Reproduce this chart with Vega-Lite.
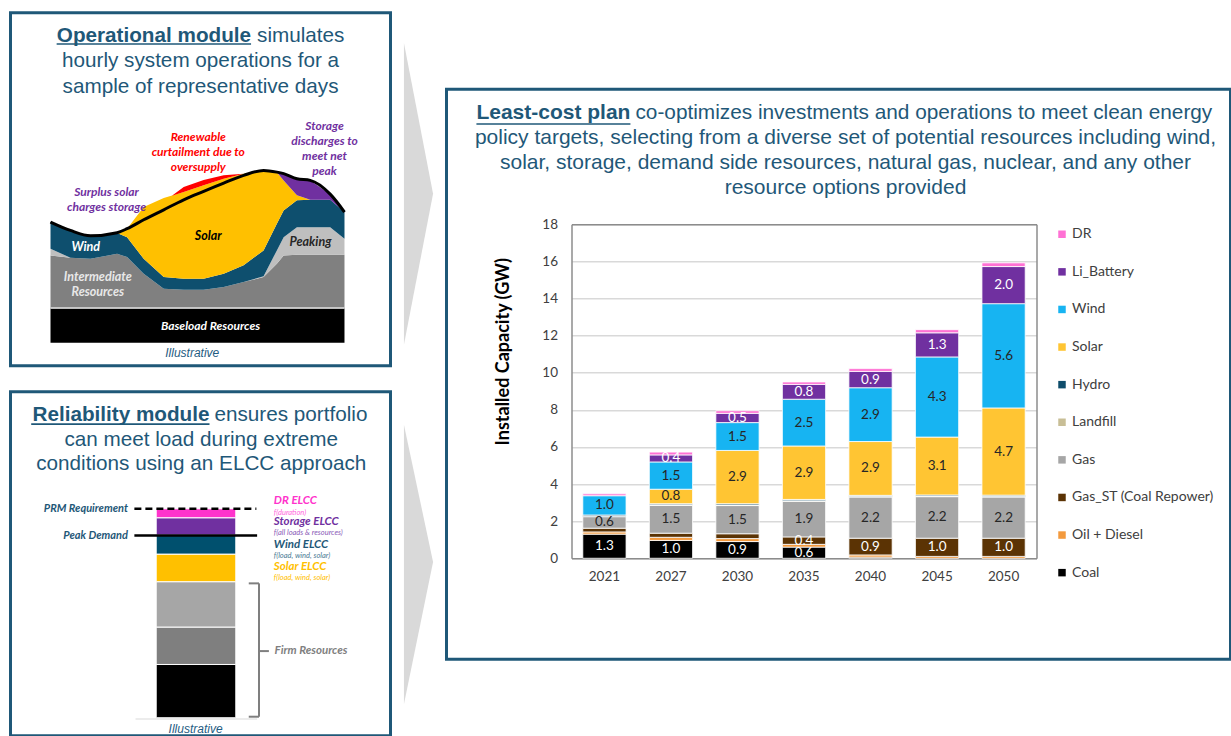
{
  "$schema": "https://vega.github.io/schema/vega-lite/v6.json",
  "background": "white",
  "padding": {"left": 8.5, "top": 10.5, "right": 0, "bottom": 0},
  "config": {"view": {"stroke": null}, "text": {"font": "Liberation Sans"}},
  "datasets": {
    "rank": [
      {"tech": "Coal", "rk": 1}, {"tech": "Oil + Diesel", "rk": 2}, {"tech": "Gas_ST (Coal Repower)", "rk": 3},
      {"tech": "Gas", "rk": 4}, {"tech": "Landfill", "rk": 5}, {"tech": "Hydro", "rk": 6}, {"tech": "Solar", "rk": 7},
      {"tech": "Wind", "rk": 8}, {"tech": "Li_Battery", "rk": 9}, {"tech": "DR", "rk": 10}
    ]
  },
  "spacing": 10.5,
  "center": true,
  "resolve": {"scale": {"color": "independent"}, "legend": {"color": "independent"}},
  "hconcat": [
    {
      "spacing": 22,
      "resolve": {"scale": {"color": "independent"}, "legend": {"color": "independent"}},
      "vconcat": [
        {
          "width": 380, "height": 353,
          "view": {"stroke": "#1F5878", "strokeWidth": 3, "fill": "white"},
          "layer": [
            {
              "data": {"values": [
                {"layer": "Baseload", "h": 1, "lo": 0, "hi": 20}, {"layer": "Baseload", "h": 24, "lo": 0, "hi": 20},
                {"layer": "Intermediate", "h": 1, "lo": 20, "hi": 50.8}, {"layer": "Intermediate", "h": 2.56, "lo": 20, "hi": 49.4},
                {"layer": "Intermediate", "h": 4.13, "lo": 20, "hi": 48.8}, {"layer": "Intermediate", "h": 6.21, "lo": 20, "hi": 51.7},
                {"layer": "Intermediate", "h": 6.99, "lo": 20, "hi": 49.8}, {"layer": "Intermediate", "h": 8.29, "lo": 20, "hi": 40.1},
                {"layer": "Intermediate", "h": 9.86, "lo": 20, "hi": 31.4}, {"layer": "Intermediate", "h": 11.42, "lo": 20, "hi": 30.8},
                {"layer": "Intermediate", "h": 12.98, "lo": 20, "hi": 30.8}, {"layer": "Intermediate", "h": 14.55, "lo": 20, "hi": 32.4},
                {"layer": "Intermediate", "h": 16.11, "lo": 20, "hi": 35.3}, {"layer": "Intermediate", "h": 17.67, "lo": 20, "hi": 38.2},
                {"layer": "Intermediate", "h": 18.71, "lo": 20, "hi": 45.9}, {"layer": "Intermediate", "h": 19.24, "lo": 20, "hi": 50.8},
                {"layer": "Intermediate", "h": 20.28, "lo": 20, "hi": 51.2}, {"layer": "Intermediate", "h": 21.32, "lo": 20, "hi": 51.2},
                {"layer": "Intermediate", "h": 22.88, "lo": 20, "hi": 51.2}, {"layer": "Intermediate", "h": 24, "lo": 20, "hi": 51.2},
                {"layer": "PeakL", "h": 1, "lo": 50.8, "hi": 54.7}, {"layer": "PeakL", "h": 2.56, "lo": 49.4, "hi": 49.4},
                {"layer": "PeakR", "h": 16.11, "lo": 35.3, "hi": 35.3}, {"layer": "PeakR", "h": 17.67, "lo": 38.2, "hi": 38.6},
                {"layer": "PeakR", "h": 18.71, "lo": 45.9, "hi": 53.7}, {"layer": "PeakR", "h": 19.24, "lo": 50.8, "hi": 61.4},
                {"layer": "PeakR", "h": 20.28, "lo": 51.2, "hi": 67.2}, {"layer": "PeakR", "h": 21.32, "lo": 51.2, "hi": 67.2},
                {"layer": "PeakR", "h": 22.88, "lo": 51.2, "hi": 67.2}, {"layer": "PeakR", "h": 24, "lo": 51.2, "hi": 60.5},
                {"layer": "Wind", "h": 1, "lo": 54.7, "hi": 70.2}, {"layer": "Wind", "h": 2.56, "lo": 49.4, "hi": 65.3},
                {"layer": "Wind", "h": 4.13, "lo": 48.8, "hi": 62.2}, {"layer": "Wind", "h": 6.21, "lo": 51.7, "hi": 63.8},
                {"layer": "Wind", "h": 6.99, "lo": 49.8, "hi": 61.4}, {"layer": "Wind", "h": 8.29, "lo": 40.1, "hi": 48.8},
                {"layer": "Wind", "h": 9.86, "lo": 31.4, "hi": 38.2}, {"layer": "Wind", "h": 11.42, "lo": 30.8, "hi": 37.2},
                {"layer": "Wind", "h": 12.98, "lo": 30.8, "hi": 37.2}, {"layer": "Wind", "h": 14.55, "lo": 32.4, "hi": 40.1},
                {"layer": "Wind", "h": 16.11, "lo": 35.3, "hi": 45.0}, {"layer": "Wind", "h": 17.67, "lo": 38.6, "hi": 53.7},
                {"layer": "Wind", "h": 18.71, "lo": 53.7, "hi": 69.2}, {"layer": "Wind", "h": 19.24, "lo": 61.4, "hi": 76.9},
                {"layer": "Wind", "h": 20.28, "lo": 67.2, "hi": 82.8}, {"layer": "Wind", "h": 21.32, "lo": 67.2, "hi": 83.1},
                {"layer": "Wind", "h": 22.88, "lo": 67.2, "hi": 83.1}, {"layer": "Wind", "h": 24, "lo": 60.5, "hi": 76.0},
                {"layer": "Solar", "h": 6.21, "lo": 63.8, "hi": 63.8}, {"layer": "Solar", "h": 6.99, "lo": 61.4, "hi": 66.3},
                {"layer": "Solar", "h": 8.29, "lo": 48.8, "hi": 78.9}, {"layer": "Solar", "h": 9.86, "lo": 38.2, "hi": 84.1},
                {"layer": "Solar", "h": 11.42, "lo": 37.2, "hi": 87.6}, {"layer": "Solar", "h": 12.98, "lo": 37.2, "hi": 91.5},
                {"layer": "Solar", "h": 14.55, "lo": 40.1, "hi": 95.3}, {"layer": "Solar", "h": 16.11, "lo": 45.0, "hi": 98.3},
                {"layer": "Solar", "h": 17.67, "lo": 53.7, "hi": 100.2}, {"layer": "Solar", "h": 18.71, "lo": 69.2, "hi": 99.2},
                {"layer": "Solar", "h": 19.24, "lo": 76.9, "hi": 94.4}, {"layer": "Solar", "h": 20.28, "lo": 82.8, "hi": 85.7},
                {"layer": "Solar", "h": 21.32, "lo": 83.1, "hi": 83.1},
                {"layer": "Curtail", "h": 10.5, "lo": 85.5, "hi": 85.5}, {"layer": "Curtail", "h": 11.42, "lo": 87.6, "hi": 90.6},
                {"layer": "Curtail", "h": 12.98, "lo": 91.5, "hi": 94.6}, {"layer": "Curtail", "h": 14.55, "lo": 95.3, "hi": 97.4},
                {"layer": "Curtail", "h": 16.11, "lo": 98.3, "hi": 98.3},
                {"layer": "Storage", "h": 18.71, "lo": 99.2, "hi": 99.2}, {"layer": "Storage", "h": 19.24, "lo": 94.4, "hi": 98.3},
                {"layer": "Storage", "h": 20.28, "lo": 85.7, "hi": 95.3}, {"layer": "Storage", "h": 21.32, "lo": 83.1, "hi": 94.4},
                {"layer": "Storage", "h": 22.88, "lo": 83.1, "hi": 86.4}, {"layer": "Storage", "h": 24, "lo": 76.0, "hi": 76.0}
              ]},
              "mark": {"type": "area", "interpolate": "linear"},
              "encoding": {
                "x": {"field": "h", "type": "quantitative", "scale": {"domain": [-2.13, 27.6], "nice": false, "zero": false}, "axis": null},
                "y": {"field": "lo", "type": "quantitative", "stack": null, "scale": {"domain": [-13.37, 191.86], "nice": false, "zero": false}, "axis": null},
                "y2": {"field": "hi"},
                "color": {"field": "layer", "type": "nominal", "legend": null,
                  "scale": {"domain": ["Baseload", "Intermediate", "PeakL", "PeakR", "Wind", "Solar", "Curtail", "Storage"],
                            "range": ["#000000", "#808080", "#BFBFBF", "#BFBFBF", "#0E4F6E", "#FFC000", "#FF0000", "#7030A0"]}}
              }
            },
            {
              "data": {"values": [
                {"h": 1, "load": 70.2}, {"h": 2.56, "load": 65.3}, {"h": 4.13, "load": 62.2}, {"h": 6.21, "load": 64.0},
                {"h": 6.99, "load": 66.3}, {"h": 8.29, "load": 71.5}, {"h": 9.86, "load": 77.3}, {"h": 11.42, "load": 83.1},
                {"h": 12.98, "load": 88.0}, {"h": 14.55, "load": 92.8}, {"h": 16.11, "load": 97.3}, {"h": 17.67, "load": 100.2},
                {"h": 18.71, "load": 99.2}, {"h": 19.24, "load": 98.3}, {"h": 20.28, "load": 95.3}, {"h": 21.32, "load": 94.4},
                {"h": 22.88, "load": 86.4}, {"h": 24, "load": 76.0}
              ]},
              "mark": {"type": "line", "color": "#000000", "strokeWidth": 3, "interpolate": "monotone"},
              "encoding": {
                "x": {"field": "h", "type": "quantitative", "scale": {"domain": [-2.13, 27.6], "nice": false, "zero": false}, "axis": null},
                "y": {"field": "load", "type": "quantitative", "scale": {"domain": [-13.37, 191.86], "nice": false, "zero": false}, "axis": null}
              }
            },
            {
              "data": {"values": [{}]},
              "layer": [
                {"mark": {"type": "rule", "color": "#E0E0E0", "strokeWidth": 1.5},
                 "encoding": {"x": {"datum": 1}, "x2": {"datum": 24}, "y": {"datum": 20.2}}},
                {"mark": {"type": "rule", "color": "#1F5878", "strokeWidth": 1.6},
                 "encoding": {"x": {"datum": 1.48}, "x2": {"datum": 16.69}, "y": {"datum": 173.7}}},
                {"mark": {"type": "text", "text": "Operational module", "align": "right", "baseline": "middle", "font": "Liberation Sans", "fontSize": 20.7, "fontWeight": "bold", "color": "#1F5878"},
                 "encoding": {"x": {"datum": 16.69}, "y": {"datum": 178.5}}},
                {"mark": {"type": "text", "text": "simulates", "align": "left", "baseline": "middle", "font": "Liberation Sans", "fontSize": 20.7, "color": "#1F5878"},
                 "encoding": {"x": {"datum": 17.16}, "y": {"datum": 178.5}}},
                {"mark": {"type": "text", "text": ["hourly system operations for a", "sample of representative days"], "lineHeight": 26, "align": "center", "baseline": "middle", "font": "Liberation Sans", "fontSize": 20.7, "color": "#1F5878"},
                 "encoding": {"x": {"datum": 12.74}, "y": {"datum": 164.0}}},
                {"mark": {"type": "text", "text": ["Surplus solar", "charges storage"], "lineHeight": 15, "align": "center", "baseline": "middle", "font": "Lato", "fontSize": 12, "fontWeight": "bold", "fontStyle": "italic", "color": "#7030A0"},
                 "encoding": {"x": {"datum": 5.38}, "y": {"datum": 87.4}}},
                {"mark": {"type": "text", "text": ["Renewable", "curtailment due to", "oversupply"], "lineHeight": 15, "align": "center", "baseline": "middle", "font": "Lato", "fontSize": 12, "fontWeight": "bold", "fontStyle": "italic", "color": "#FF0000"},
                 "encoding": {"x": {"datum": 12.56}, "y": {"datum": 119.4}}},
                {"mark": {"type": "text", "text": ["Storage", "discharges to", "meet net", "peak"], "lineHeight": 15, "align": "center", "baseline": "middle", "font": "Lato", "fontSize": 12, "fontWeight": "bold", "fontStyle": "italic", "color": "#7030A0"},
                 "encoding": {"x": {"datum": 22.44}, "y": {"datum": 126.2}}},
                {"mark": {"type": "text", "text": "Wind", "align": "center", "baseline": "middle", "font": "Lato", "fontSize": 12.5, "fontWeight": "bold", "fontStyle": "italic", "color": "#FFFFFF"},
                 "encoding": {"x": {"datum": 3.76}, "y": {"datum": 55.8}}},
                {"mark": {"type": "text", "text": "Solar", "align": "center", "baseline": "middle", "font": "Lato", "fontSize": 12.5, "fontWeight": "bold", "fontStyle": "italic", "color": "#000000"},
                 "encoding": {"x": {"datum": 13.34}, "y": {"datum": 62.2}}},
                {"mark": {"type": "text", "text": ["Intermediate", "Resources"], "lineHeight": 15, "align": "center", "baseline": "middle", "font": "Lato", "fontSize": 12.5, "fontWeight": "bold", "fontStyle": "italic", "color": "#E8E8E8"},
                 "encoding": {"x": {"datum": 4.7}, "y": {"datum": 38.0}}},
                {"mark": {"type": "text", "text": "Peaking", "align": "center", "baseline": "middle", "font": "Lato", "fontSize": 12.5, "fontWeight": "bold", "fontStyle": "italic", "color": "#262626"},
                 "encoding": {"x": {"datum": 21.34}, "y": {"datum": 58.3}}},
                {"mark": {"type": "text", "text": "Baseload Resources", "align": "center", "baseline": "middle", "font": "Lato", "fontSize": 12, "fontWeight": "bold", "fontStyle": "italic", "color": "#FFFFFF"},
                 "encoding": {"x": {"datum": 13.52}, "y": {"datum": 9.9}}},
                {"mark": {"type": "text", "text": "Illustrative", "align": "center", "baseline": "middle", "font": "Liberation Sans", "fontSize": 12, "fontStyle": "italic", "color": "#1F5C82"},
                 "encoding": {"x": {"datum": 12.09}, "y": {"datum": -6.2}}}
              ],
              "encoding": {
                "x": {"scale": {"domain": [-2.13, 27.6], "nice": false, "zero": false}, "axis": null},
                "y": {"scale": {"domain": [-13.37, 191.86], "nice": false, "zero": false}, "axis": null}
              }
            }
          ]
        },
        {
          "width": 380, "height": 344,
          "view": {"stroke": "#1F5878", "strokeWidth": 3, "fill": "white"},
          "layer": [
            {
              "data": {"values": [
                {"seg": "Firm base", "lo": 0, "hi": 25.5}, {"seg": "Firm mid", "lo": 25.5, "hi": 43.4},
                {"seg": "Firm top", "lo": 43.4, "hi": 65.1}, {"seg": "Solar ELCC", "lo": 65.1, "hi": 78.3},
                {"seg": "Wind ELCC", "lo": 78.3, "hi": 87.4}, {"seg": "Storage ELCC", "lo": 87.4, "hi": 95.7},
                {"seg": "DR ELCC", "lo": 95.7, "hi": 100}
              ]},
              "mark": {"type": "rect", "stroke": "#FFFFFF", "strokeWidth": 1},
              "encoding": {
                "x": {"datum": 38.34, "scale": {"domain": [0, 100], "nice": false, "zero": false}, "axis": null},
                "x2": {"datum": 59.29},
                "y": {"field": "lo", "type": "quantitative", "scale": {"domain": [-8.61, 155.98], "nice": false, "zero": false}, "axis": null},
                "y2": {"field": "hi"},
                "color": {"field": "seg", "type": "nominal", "legend": null,
                  "scale": {"domain": ["Firm base", "Firm mid", "Firm top", "Solar ELCC", "Wind ELCC", "Storage ELCC", "DR ELCC"],
                            "range": ["#000000", "#7F7F7F", "#A6A6A6", "#FFC000", "#00506E", "#7030A0", "#FF33CC"]}}
              }
            },
            {
              "data": {"values": [{}]},
              "layer": [
                {"mark": {"type": "rule", "color": "#D9D9D9", "strokeWidth": 1},
                 "encoding": {"x": {"datum": 32.9}, "x2": {"datum": 64.9}, "y": {"datum": -0.6}}},
                {"mark": {"type": "rule", "color": "#000000", "strokeWidth": 2.5, "strokeDash": [7, 4]},
                 "encoding": {"x": {"datum": 32.6}, "x2": {"datum": 64.7}, "y": {"datum": 100}}},
                {"mark": {"type": "rule", "color": "#000000", "strokeWidth": 2.5},
                 "encoding": {"x": {"datum": 32.6}, "x2": {"datum": 64.9}, "y": {"datum": 87.2}}},
                {"mark": {"type": "rule", "color": "#7F7F7F", "strokeWidth": 2},
                 "encoding": {"x": {"datum": 62.7}, "x2": {"datum": 65.4}, "y": {"datum": 64.3}}},
                {"mark": {"type": "rule", "color": "#7F7F7F", "strokeWidth": 2},
                 "encoding": {"x": {"datum": 62.7}, "x2": {"datum": 65.4}, "y": {"datum": 0.5}}},
                {"mark": {"type": "rule", "color": "#7F7F7F", "strokeWidth": 2},
                 "encoding": {"x": {"datum": 65.4}, "y": {"datum": 0.5}, "y2": {"datum": 64.3}}},
                {"mark": {"type": "rule", "color": "#7F7F7F", "strokeWidth": 2},
                 "encoding": {"x": {"datum": 65.4}, "x2": {"datum": 68.0}, "y": {"datum": 31.9}}},
                {"mark": {"type": "rule", "color": "#1F5878", "strokeWidth": 1.6},
                 "encoding": {"x": {"datum": 5.45}, "x2": {"datum": 52.37}, "y": {"datum": 140.5}}},
                {"mark": {"type": "text", "text": "Reliability module", "align": "right", "baseline": "middle", "font": "Liberation Sans", "fontSize": 20.7, "fontWeight": "bold", "color": "#1F5878"},
                 "encoding": {"x": {"datum": 52.37}, "y": {"datum": 144.8}}},
                {"mark": {"type": "text", "text": "ensures portfolio", "align": "left", "baseline": "middle", "font": "Liberation Sans", "fontSize": 20.7, "color": "#1F5878"},
                 "encoding": {"x": {"datum": 53.68}, "y": {"datum": 144.8}}},
                {"mark": {"type": "text", "text": ["can meet load during extreme", "conditions using an ELCC approach"], "lineHeight": 24.4, "align": "center", "baseline": "middle", "font": "Liberation Sans", "fontSize": 20.7, "color": "#1F5878"},
                 "encoding": {"x": {"datum": 50.2}, "y": {"datum": 132.9}}},
                {"mark": {"type": "text", "text": "PRM Requirement", "align": "right", "baseline": "middle", "font": "Lato", "fontSize": 11, "fontWeight": "bold", "fontStyle": "italic", "color": "#1F5878"},
                 "encoding": {"x": {"datum": 30.9}, "y": {"datum": 99.9}}},
                {"mark": {"type": "text", "text": "Peak Demand", "align": "right", "baseline": "middle", "font": "Lato", "fontSize": 11, "fontWeight": "bold", "fontStyle": "italic", "color": "#1F5878"},
                 "encoding": {"x": {"datum": 30.9}, "y": {"datum": 87.1}}},
                {"mark": {"type": "text", "text": "DR ELCC", "align": "left", "baseline": "middle", "font": "Lato", "fontSize": 11.5, "fontWeight": "bold", "fontStyle": "italic", "color": "#FF33CC"},
                 "encoding": {"x": {"datum": 69.3}, "y": {"datum": 103.7}}},
                {"mark": {"type": "text", "text": "f(duration)", "align": "left", "baseline": "middle", "font": "Lato", "fontSize": 7.5, "fontStyle": "italic", "color": "#FF66DD"},
                 "encoding": {"x": {"datum": 69.3}, "y": {"datum": 98.2}}},
                {"mark": {"type": "text", "text": "Storage ELCC", "align": "left", "baseline": "middle", "font": "Lato", "fontSize": 11.5, "fontWeight": "bold", "fontStyle": "italic", "color": "#7030A0"},
                 "encoding": {"x": {"datum": 69.3}, "y": {"datum": 93.8}}},
                {"mark": {"type": "text", "text": "f(all loads & resources)", "align": "left", "baseline": "middle", "font": "Lato", "fontSize": 7.5, "fontStyle": "italic", "color": "#8B5CB8"},
                 "encoding": {"x": {"datum": 69.3}, "y": {"datum": 88.4}}},
                {"mark": {"type": "text", "text": "Wind ELCC", "align": "left", "baseline": "middle", "font": "Lato", "fontSize": 11.5, "fontWeight": "bold", "fontStyle": "italic", "color": "#1F5878"},
                 "encoding": {"x": {"datum": 69.3}, "y": {"datum": 82.6}}},
                {"mark": {"type": "text", "text": "f(load, wind, solar)", "align": "left", "baseline": "middle", "font": "Lato", "fontSize": 7.5, "fontStyle": "italic", "color": "#4A7A94"},
                 "encoding": {"x": {"datum": 69.3}, "y": {"datum": 77.2}}},
                {"mark": {"type": "text", "text": "Solar ELCC", "align": "left", "baseline": "middle", "font": "Lato", "fontSize": 11.5, "fontWeight": "bold", "fontStyle": "italic", "color": "#FFC000"},
                 "encoding": {"x": {"datum": 69.3}, "y": {"datum": 72.2}}},
                {"mark": {"type": "text", "text": "f(load, wind, solar)", "align": "left", "baseline": "middle", "font": "Lato", "fontSize": 7.5, "fontStyle": "italic", "color": "#FFC000"},
                 "encoding": {"x": {"datum": 69.3}, "y": {"datum": 66.7}}},
                {"mark": {"type": "text", "text": "Firm Resources", "align": "left", "baseline": "middle", "font": "Lato", "fontSize": 11.5, "fontWeight": "bold", "fontStyle": "italic", "color": "#7F7F7F"},
                 "encoding": {"x": {"datum": 69.5}, "y": {"datum": 31.9}}},
                {"mark": {"type": "text", "text": "Illustrative", "align": "center", "baseline": "middle", "font": "Liberation Sans", "fontSize": 12, "fontStyle": "italic", "color": "#1F5C82"},
                 "encoding": {"x": {"datum": 48.7}, "y": {"datum": -5.6}}}
              ],
              "encoding": {
                "x": {"scale": {"domain": [0, 100], "nice": false, "zero": false}, "axis": null},
                "y": {"scale": {"domain": [-8.61, 155.98], "nice": false, "zero": false}, "axis": null}
              }
            }
          ]
        }
      ]
    },
    {
      "width": 31, "height": 722,
      "view": {"stroke": null, "fill": "#FFFFFF"},
      "data": {"values": [
        {"g": "upper", "x": 0.03, "lo": 4.0, "hi": 45.8}, {"g": "upper", "x": 0.97, "lo": 24.9, "hi": 24.9},
        {"g": "lower", "x": 0.03, "lo": 56.9, "hi": 95.6}, {"g": "lower", "x": 0.97, "lo": 75.9, "hi": 75.9}
      ]},
      "mark": {"type": "area", "color": "#D9D9D9"},
      "encoding": {
        "x": {"field": "x", "type": "quantitative", "scale": {"domain": [0, 1], "nice": false, "zero": false}, "axis": null},
        "y": {"field": "lo", "type": "quantitative", "stack": null, "scale": {"domain": [100, 0], "nice": false, "zero": false}, "axis": null},
        "y2": {"field": "hi"},
        "detail": {"field": "g"}
      }
    },
    {
      "width": 784, "height": 570,
      "view": {"stroke": "#1F5878", "strokeWidth": 3, "fill": "white"},
      "data": {"values": [
        {"year": "2021", "tech": "Coal", "v": 1.3}, {"year": "2021", "tech": "Oil + Diesel", "v": 0.12}, {"year": "2021", "tech": "Gas_ST (Coal Repower)", "v": 0.2},
        {"year": "2021", "tech": "Gas", "v": 0.62}, {"year": "2021", "tech": "Landfill", "v": 0.03}, {"year": "2021", "tech": "Hydro", "v": 0.06},
        {"year": "2021", "tech": "Wind", "v": 1.04}, {"year": "2021", "tech": "DR", "v": 0.1},
        {"year": "2027", "tech": "Coal", "v": 0.96}, {"year": "2027", "tech": "Oil + Diesel", "v": 0.17}, {"year": "2027", "tech": "Gas_ST (Coal Repower)", "v": 0.22},
        {"year": "2027", "tech": "Gas", "v": 1.5}, {"year": "2027", "tech": "Landfill", "v": 0.03}, {"year": "2027", "tech": "Hydro", "v": 0.06},
        {"year": "2027", "tech": "Solar", "v": 0.78}, {"year": "2027", "tech": "Wind", "v": 1.47}, {"year": "2027", "tech": "Li_Battery", "v": 0.38}, {"year": "2027", "tech": "DR", "v": 0.15},
        {"year": "2030", "tech": "Coal", "v": 0.9}, {"year": "2030", "tech": "Oil + Diesel", "v": 0.16}, {"year": "2030", "tech": "Gas_ST (Coal Repower)", "v": 0.26},
        {"year": "2030", "tech": "Gas", "v": 1.52}, {"year": "2030", "tech": "Landfill", "v": 0.03}, {"year": "2030", "tech": "Hydro", "v": 0.07},
        {"year": "2030", "tech": "Solar", "v": 2.87}, {"year": "2030", "tech": "Wind", "v": 1.5}, {"year": "2030", "tech": "Li_Battery", "v": 0.5}, {"year": "2030", "tech": "DR", "v": 0.14},
        {"year": "2035", "tech": "Coal", "v": 0.6}, {"year": "2035", "tech": "Oil + Diesel", "v": 0.15}, {"year": "2035", "tech": "Gas_ST (Coal Repower)", "v": 0.4},
        {"year": "2035", "tech": "Gas", "v": 1.92}, {"year": "2035", "tech": "Landfill", "v": 0.03}, {"year": "2035", "tech": "Hydro", "v": 0.07},
        {"year": "2035", "tech": "Solar", "v": 2.88}, {"year": "2035", "tech": "Wind", "v": 2.52}, {"year": "2035", "tech": "Li_Battery", "v": 0.8}, {"year": "2035", "tech": "DR", "v": 0.13},
        {"year": "2040", "tech": "Coal", "v": 0.06}, {"year": "2040", "tech": "Oil + Diesel", "v": 0.12}, {"year": "2040", "tech": "Gas_ST (Coal Repower)", "v": 0.9},
        {"year": "2040", "tech": "Gas", "v": 2.22}, {"year": "2040", "tech": "Landfill", "v": 0.03}, {"year": "2040", "tech": "Hydro", "v": 0.06},
        {"year": "2040", "tech": "Solar", "v": 2.9}, {"year": "2040", "tech": "Wind", "v": 2.9}, {"year": "2040", "tech": "Li_Battery", "v": 0.88}, {"year": "2040", "tech": "DR", "v": 0.15},
        {"year": "2045", "tech": "Oil + Diesel", "v": 0.1}, {"year": "2045", "tech": "Gas_ST (Coal Repower)", "v": 0.98},
        {"year": "2045", "tech": "Gas", "v": 2.24}, {"year": "2045", "tech": "Landfill", "v": 0.03}, {"year": "2045", "tech": "Hydro", "v": 0.06},
        {"year": "2045", "tech": "Solar", "v": 3.12}, {"year": "2045", "tech": "Wind", "v": 4.32}, {"year": "2045", "tech": "Li_Battery", "v": 1.3}, {"year": "2045", "tech": "DR", "v": 0.17},
        {"year": "2050", "tech": "Oil + Diesel", "v": 0.1}, {"year": "2050", "tech": "Gas_ST (Coal Repower)", "v": 0.98},
        {"year": "2050", "tech": "Gas", "v": 2.22}, {"year": "2050", "tech": "Landfill", "v": 0.03}, {"year": "2050", "tech": "Hydro", "v": 0.07},
        {"year": "2050", "tech": "Solar", "v": 4.7}, {"year": "2050", "tech": "Wind", "v": 5.62}, {"year": "2050", "tech": "Li_Battery", "v": 2.0}, {"year": "2050", "tech": "DR", "v": 0.2}
      ]},
      "resolve": {"axis": {"x": "independent", "y": "independent"}},
      "layer": [
        {
          "transform": [{"lookup": "tech", "from": {"data": {"name": "rank"}, "key": "tech", "fields": ["rk"]}}],
          "mark": {"type": "bar", "stroke": "#FFFFFF", "strokeWidth": 0.8},
          "encoding": {
            "x": {"field": "year", "type": "nominal",
                  "scale": {"domain": ["2021", "2027", "2030", "2035", "2040", "2045", "2050"], "range": [125, 590], "paddingInner": 0.35, "paddingOuter": 0.17},
                  "axis": {"orient": "bottom", "offset": -101, "title": null, "labelAngle": 0, "ticks": false, "grid": false, "labelPadding": 11,
                           "labelFont": "Lato", "labelFontSize": 13.5, "labelColor": "#404040", "domainColor": "#8C8C8C", "domainWidth": 1.5}},
            "y": {"field": "v", "type": "quantitative", "stack": "zero",
                  "scale": {"domain": [0, 18], "range": [469, 135], "nice": false, "zero": false},
                  "axis": {"orient": "left", "offset": -125, "values": [0, 2, 4, 6, 8, 10, 12, 14, 16, 18], "grid": true, "gridColor": "#D9D9D9", "gridWidth": 1.5,
                           "ticks": false, "labelPadding": 14, "labelFont": "Lato", "labelFontSize": 13.5, "labelColor": "#404040",
                           "domainColor": "#8C8C8C", "domainWidth": 1.5,
                           "title": "Installed Capacity (GW)", "titleFont": "Lato", "titleFontSize": 18, "titleFontWeight": "bold", "titleColor": "#000000",
                           "titleAngle": 270, "titleAlign": "center", "titleBaseline": "bottom", "titleX": -59, "titleY": 262}},
            "color": {"field": "tech", "type": "nominal",
                      "scale": {"domain": ["DR", "Li_Battery", "Wind", "Solar", "Hydro", "Landfill", "Gas", "Gas_ST (Coal Repower)", "Oil + Diesel", "Coal"],
                                "range": ["#FF71D4", "#7030A0", "#17B4F2", "#FFC533", "#0E4D6B", "#C8BE96", "#A6A6A6", "#5B3304", "#F39A3E", "#000000"]},
                      "legend": {"orient": "none", "legendX": 608.5, "legendY": 138, "title": null, "symbolType": "square", "symbolSize": 56,
                                 "symbolStrokeWidth": 0, "labelFont": "Lato", "labelFontSize": 14, "labelColor": "#404040", "rowPadding": 23.6,
                                 "labelOffset": 3, "padding": 0}},
            "order": {"field": "rk", "type": "quantitative", "sort": "ascending"}
          }
        },
        {
          "transform": [{"lookup": "tech", "from": {"data": {"name": "rank"}, "key": "tech", "fields": ["rk"]}}],
          "mark": {"type": "text", "font": "Lato", "fontSize": 13.5, "baseline": "middle", "align": "center"},
          "encoding": {
            "x": {"field": "year", "type": "nominal",
                  "scale": {"domain": ["2021", "2027", "2030", "2035", "2040", "2045", "2050"], "range": [125, 590], "paddingInner": 0.35, "paddingOuter": 0.17},
                  "axis": {"orient": "top", "offset": -135, "title": null, "labels": false, "ticks": false, "grid": false, "domainColor": "#8C8C8C", "domainWidth": 1.5}},
            "y": {"field": "v", "type": "quantitative", "stack": "zero", "bandPosition": 0.5,
                  "scale": {"domain": [0, 18], "range": [469, 135], "nice": false, "zero": false},
                  "axis": {"orient": "right", "offset": -194, "title": null, "labels": false, "ticks": false, "grid": false, "domainColor": "#8C8C8C", "domainWidth": 1.5}},
            "detail": {"field": "tech"},
            "order": {"field": "rk", "type": "quantitative", "sort": "ascending"},
            "text": {"condition": {"test": "datum.v < 0.35", "value": ""}, "field": "v", "type": "quantitative", "format": ".1f"},
            "color": {"condition": {"test": "datum.tech === 'Coal' || datum.tech === 'Li_Battery' || datum.tech === 'Gas_ST (Coal Repower)'", "value": "#FFFFFF"}, "value": "#262626"}
          }
        },
        {
          "data": {"values": [{}]},
          "layer": [
            {"mark": {"type": "text", "text": "Least-cost plan", "align": "right", "baseline": "middle", "font": "Liberation Sans", "fontSize": 21, "fontWeight": "bold", "color": "#1F5878", "dx": 26},
             "encoding": {"x": {"datum": "2021", "type": "nominal"}, "y": {"datum": 23.98, "type": "quantitative"}}},
            {"mark": {"type": "text", "text": "co-optimizes investments and operations to meet clean energy", "align": "left", "baseline": "middle", "font": "Liberation Sans", "fontSize": 20.8, "color": "#1F5878", "dx": 31},
             "encoding": {"x": {"datum": "2021", "type": "nominal"}, "y": {"datum": 23.98, "type": "quantitative"}}},
            {"mark": {"type": "text", "text": ["policy targets, selecting from a diverse set of potential resources including wind,", "solar, storage, demand side resources, natural gas, nuclear, and any other", "resource options provided"], "lineHeight": 25, "align": "center", "baseline": "middle", "font": "Liberation Sans", "fontSize": 21, "color": "#1F5878", "dx": 41.5},
             "encoding": {"x": {"datum": "2035", "type": "nominal"}, "y": {"datum": 22.63, "type": "quantitative"}}},
            {"mark": {"type": "rule", "color": "#1F5878", "strokeWidth": 1.6, "xOffset": -128, "x2Offset": 26},
             "encoding": {"x": {"datum": "2021", "type": "nominal"}, "x2": {"datum": "2021"}, "y": {"datum": 23.4, "type": "quantitative"}}}
          ],
          "encoding": {
            "x": {"scale": {"domain": ["2021", "2027", "2030", "2035", "2040", "2045", "2050"], "range": [125, 590], "paddingInner": 0.35, "paddingOuter": 0.17}, "axis": null},
            "y": {"scale": {"domain": [0, 18], "range": [469, 135], "nice": false, "zero": false}, "axis": null}
          }
        }
      ]
    }
  ]
}
